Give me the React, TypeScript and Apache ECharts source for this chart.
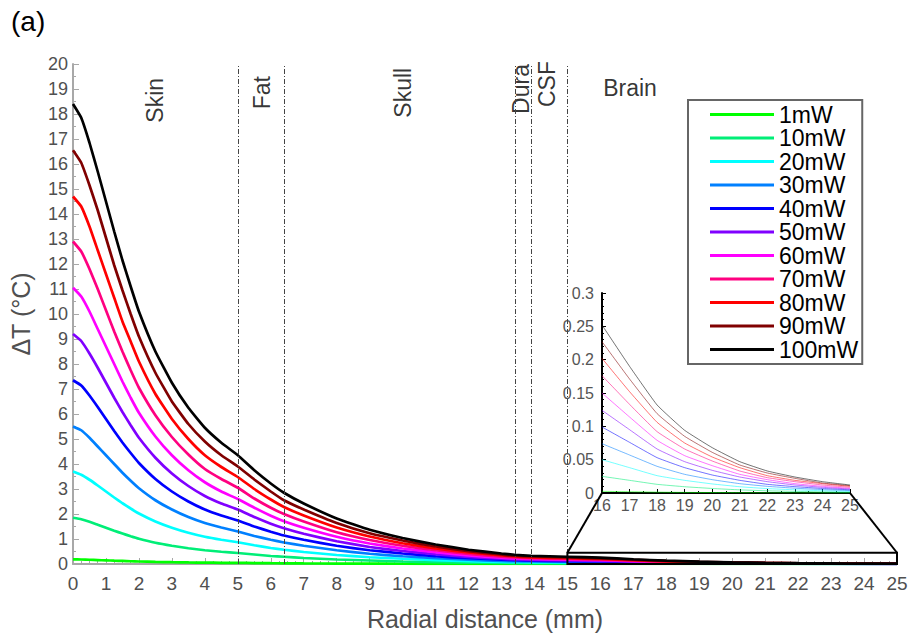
import React, { useEffect, useRef } from "react";
import * as echarts from "echarts";

// Radial distance (mm)
const X_MM = [0, 0.25, 0.5, 0.75, 1, 1.25, 1.5, 1.75, 2, 2.5, 3, 3.5, 4, 4.5, 5, 5.5, 6, 6.4, 7, 8, 9, 10, 11, 12, 13, 13.4, 13.9, 15, 16, 17, 18, 19, 20, 21, 22, 23, 24, 25];

const SERIES_NAMES = ["1mW", "10mW", "20mW", "30mW", "40mW", "50mW", "60mW", "70mW", "80mW", "90mW", "100mW"];
const SERIES_COLORS = ["#00ff00", "#00ee77", "#00ffff", "#0080ff", "#0000ff", "#8000ff", "#ff00ff", "#ff0080", "#ff0000", "#800000", "#000000"];

// ΔT (°C) for each laser power
const DT_1 = [0.184, 0.179, 0.169, 0.157, 0.145, 0.133, 0.122, 0.111, 0.101, 0.085, 0.073, 0.063, 0.055, 0.049, 0.044, 0.038, 0.032, 0.029, 0.024, 0.018, 0.014, 0.01, 0.0078, 0.0057, 0.0042, 0.0037, 0.0033, 0.0029, 0.0025, 0.0019, 0.0013, 0.0009, 0.0007, 0.0005, 0.0003, 0.0002, 0.0002, 0.0001];
const DT_10 = [1.85, 1.79, 1.69, 1.57, 1.45, 1.33, 1.22, 1.11, 1.01, 0.85, 0.73, 0.63, 0.55, 0.49, 0.44, 0.38, 0.32, 0.29, 0.24, 0.18, 0.14, 0.1, 0.078, 0.057, 0.042, 0.037, 0.033, 0.029, 0.025, 0.019, 0.013, 0.0094, 0.0068, 0.0047, 0.0033, 0.0024, 0.0017, 0.0012];
const DT_20 = [3.7, 3.57, 3.37, 3.14, 2.9, 2.66, 2.43, 2.22, 2.02, 1.7, 1.45, 1.25, 1.09, 0.97, 0.87, 0.75, 0.64, 0.57, 0.48, 0.36, 0.27, 0.21, 0.156, 0.114, 0.084, 0.074, 0.066, 0.058, 0.05, 0.038, 0.026, 0.019, 0.0136, 0.0094, 0.0066, 0.0048, 0.0034, 0.0024];
const DT_30 = [5.5, 5.35, 5.05, 4.7, 4.35, 4.0, 3.65, 3.33, 3.03, 2.55, 2.18, 1.88, 1.64, 1.46, 1.3, 1.12, 0.97, 0.86, 0.73, 0.55, 0.41, 0.31, 0.23, 0.17, 0.126, 0.111, 0.1, 0.087, 0.074, 0.057, 0.04, 0.028, 0.02, 0.014, 0.01, 0.0072, 0.0051, 0.0036];
const DT_40 = [7.35, 7.14, 6.74, 6.28, 5.8, 5.32, 4.86, 4.44, 4.04, 3.4, 2.9, 2.5, 2.18, 1.94, 1.74, 1.5, 1.29, 1.14, 0.97, 0.73, 0.55, 0.42, 0.31, 0.23, 0.17, 0.15, 0.13, 0.115, 0.099, 0.076, 0.053, 0.038, 0.027, 0.019, 0.013, 0.0095, 0.0068, 0.0048];
const DT_50 = [9.2, 8.92, 8.42, 7.85, 7.25, 6.65, 6.08, 5.55, 5.05, 4.25, 3.62, 3.12, 2.72, 2.42, 2.18, 1.88, 1.61, 1.43, 1.21, 0.91, 0.68, 0.52, 0.39, 0.285, 0.21, 0.185, 0.165, 0.145, 0.124, 0.095, 0.066, 0.047, 0.034, 0.024, 0.017, 0.012, 0.0085, 0.006];
const DT_60 = [11.05, 10.7, 10.1, 9.4, 8.7, 8.0, 7.3, 6.65, 6.05, 5.1, 4.35, 3.75, 3.27, 2.9, 2.6, 2.25, 1.93, 1.71, 1.45, 1.09, 0.82, 0.62, 0.47, 0.34, 0.25, 0.22, 0.2, 0.17, 0.15, 0.114, 0.079, 0.056, 0.041, 0.028, 0.02, 0.014, 0.01, 0.007];
const DT_70 = [12.9, 12.5, 11.8, 11.0, 10.15, 9.3, 8.5, 7.75, 7.05, 5.95, 5.08, 4.38, 3.8, 3.4, 3.05, 2.62, 2.25, 2.0, 1.7, 1.27, 0.96, 0.73, 0.55, 0.4, 0.29, 0.26, 0.23, 0.2, 0.176, 0.133, 0.092, 0.066, 0.048, 0.033, 0.023, 0.017, 0.012, 0.0085];
const DT_80 = [14.7, 14.3, 13.5, 12.55, 11.6, 10.65, 9.7, 8.9, 8.1, 6.8, 5.8, 5.0, 4.35, 3.88, 3.48, 3.0, 2.58, 2.28, 1.94, 1.46, 1.1, 0.83, 0.62, 0.46, 0.34, 0.3, 0.26, 0.23, 0.202, 0.152, 0.106, 0.075, 0.054, 0.038, 0.026, 0.019, 0.014, 0.01];
const DT_90 = [16.55, 16.05, 15.15, 14.15, 13.05, 11.95, 10.95, 10.0, 9.1, 7.65, 6.5, 5.6, 4.9, 4.35, 3.9, 3.38, 2.9, 2.55, 2.18, 1.64, 1.23, 0.94, 0.7, 0.51, 0.38, 0.33, 0.3, 0.26, 0.227, 0.171, 0.119, 0.085, 0.061, 0.042, 0.03, 0.022, 0.015, 0.011];
const DT_100 = [18.4, 17.85, 16.85, 15.7, 14.5, 13.3, 12.15, 11.1, 10.1, 8.5, 7.25, 6.25, 5.45, 4.85, 4.35, 3.75, 3.22, 2.85, 2.42, 1.82, 1.37, 1.04, 0.78, 0.57, 0.42, 0.37, 0.33, 0.29, 0.252, 0.19, 0.132, 0.094, 0.068, 0.047, 0.033, 0.024, 0.017, 0.012];

const SERIES_VALUES = [DT_1, DT_10, DT_20, DT_30, DT_40, DT_50, DT_60, DT_70, DT_80, DT_90, DT_100];

// Tissue layer boundaries (mm) and labels
const BOUNDARIES = [5, 6.4, 13.43, 13.9, 15];
const REGION_NAMES = ["Skin", "Fat", "Skull", "Dura", "CSF", "Brain"];
const REGION_X = [2.5, 5.72, 10.0, 13.6, 14.38, 16.9];
const REGION_Y = [18.55, 18.85, 18.85, 19.0, 19.2, 19.05];
const REGION_ROTATE = [90, 90, 90, 90, 90, 0];

// Inset (zoom) range
const INSET_X_MIN = 16;
const INSET_X_MAX = 25;
const INSET_Y_MAX = 0.3;
const ZOOM_BOX_X = [15, 25];
const ZOOM_BOX_Y = [0, 0.45];

const FONT = "Liberation Sans, Arial, sans-serif";

export default function App() {
  const ref = useRef<HTMLDivElement>(null);

  useEffect(() => {
    document.body.style.margin = "0";
    const chart = echarts.init(ref.current!, null, { renderer: "svg" });

    const mainSeries: any[] = SERIES_NAMES.map((name, k) => ({
      name,
      type: "line",
      xAxisIndex: 0,
      yAxisIndex: 0,
      showSymbol: false,
      symbol: "none",
      smooth: 0.12,
      z: 3 + k * 0.01,
      color: SERIES_COLORS[k],
      lineStyle: { width: 2.7, color: SERIES_COLORS[k] },
      data: X_MM.map((x, i) => [x, SERIES_VALUES[k][i]]),
    }));

    mainSeries[0].markLine = {
      silent: true,
      symbol: "none",
      label: { show: false },
      lineStyle: { color: "#444", width: 1, type: [5, 2, 1, 2] },
      data: BOUNDARIES.map((b) => ({ xAxis: b })),
    };

    const insetSeries = SERIES_NAMES.map((name, k) => ({
      name: name + " (inset)",
      type: "line",
      xAxisIndex: 1,
      yAxisIndex: 1,
      showSymbol: false,
      symbol: "none",
      smooth: 0.12,
      color: SERIES_COLORS[k],
      lineStyle: { width: 1, color: SERIES_COLORS[k], opacity: 0.55 },
      data: X_MM.map((x, i) => [x, SERIES_VALUES[k][i]]).filter((p) => p[0] >= INSET_X_MIN),
    }));

    const regionSeries = {
      name: "regions",
      type: "scatter",
      xAxisIndex: 0,
      yAxisIndex: 0,
      symbolSize: 0,
      silent: true,
      data: REGION_NAMES.map((n, i) => ({
        name: n,
        value: [REGION_X[i], REGION_Y[i]],
        label: {
          show: true,
          position: "inside",
          formatter: n,
          rotate: REGION_ROTATE[i],
          color: "#000",
          fontSize: 23,
          fontFamily: FONT,
        },
      })),
    };

    const axisGray = "#a8a8a8";
    const labelGray = "#505050";

    chart.setOption({
      animation: false,
      backgroundColor: "#fff",
      textStyle: { fontFamily: FONT },
      title: {
        text: "(a)",
        left: 6,
        top: 2,
        textStyle: { fontSize: 28, fontWeight: "normal", color: "#000", fontFamily: FONT },
      },
      legend: {
        data: SERIES_NAMES,
        orient: "vertical",
        left: 688,
        top: 100,
        icon: "rect",
        itemWidth: 64,
        itemHeight: 3,
        itemGap: 0.5,
        padding: [3, 4, 3, 22],
        borderColor: "#666",
        borderWidth: 2,
        backgroundColor: "#fff",
        selectedMode: false,
        textStyle: { fontSize: 23, color: "#000", fontFamily: FONT, lineHeight: 21.3 },
      },
      grid: [
        { left: 73, right: 20, top: 64, bottom: 75 },
        { left: 602, top: 293, width: 248, height: 200 },
      ],
      xAxis: [
        {
          type: "value",
          gridIndex: 0,
          min: 0,
          max: 25,
          interval: 1,
          name: "Radial distance (mm)",
          nameLocation: "middle",
          nameGap: 42,
          nameTextStyle: { fontSize: 25, color: labelGray, fontFamily: FONT },
          axisLine: { lineStyle: { color: axisGray, width: 2 } },
          axisTick: { inside: true, length: 6, lineStyle: { color: axisGray } },
          minorTick: { show: true, splitNumber: 4, length: 3, lineStyle: { color: axisGray } },
          axisLabel: { fontSize: 19, color: labelGray, margin: 10, fontFamily: FONT },
          splitLine: { show: false },
        },
        {
          type: "value",
          gridIndex: 1,
          min: INSET_X_MIN,
          max: INSET_X_MAX,
          interval: 1,
          axisLine: { lineStyle: { color: "#000", width: 2 } },
          axisTick: { inside: true, length: 4, lineStyle: { color: "#000" } },
          minorTick: { show: true, splitNumber: 2, length: 2, lineStyle: { color: "#000" } },
          axisLabel: { fontSize: 16, color: "#555", margin: 4, fontFamily: FONT },
          splitLine: { show: false },
        },
      ],
      yAxis: [
        {
          type: "value",
          gridIndex: 0,
          min: 0,
          max: 20,
          interval: 1,
          name: "ΔT (°C)",
          nameLocation: "middle",
          nameGap: 40,
          nameTextStyle: { fontSize: 25, color: labelGray, fontFamily: FONT },
          axisLine: { show: true, lineStyle: { color: axisGray, width: 2 } },
          axisTick: { show: true, inside: true, length: 6, lineStyle: { color: axisGray } },
          minorTick: { show: true, splitNumber: 2, length: 3, lineStyle: { color: axisGray } },
          axisLabel: { fontSize: 18, color: labelGray, margin: 5, fontFamily: FONT },
          splitLine: { show: false },
        },
        {
          type: "value",
          gridIndex: 1,
          min: 0,
          max: INSET_Y_MAX,
          interval: 0.05,
          axisLine: { show: true, lineStyle: { color: "#000", width: 2 } },
          axisTick: { show: true, inside: true, length: 4, lineStyle: { color: "#000" } },
          minorTick: { show: true, splitNumber: 5, length: 2, lineStyle: { color: "#000" } },
          axisLabel: { fontSize: 16, color: "#555", margin: 8, fontFamily: FONT },
          splitLine: { show: false },
        },
      ],
      series: [...mainSeries, ...insetSeries, regionSeries],
    });

    // Zoom box and connector lines computed from the axes
    const bl = chart.convertToPixel({ gridIndex: 0 }, [ZOOM_BOX_X[0], ZOOM_BOX_Y[0]]) as number[];
    const tr = chart.convertToPixel({ gridIndex: 0 }, [ZOOM_BOX_X[1], ZOOM_BOX_Y[1]]) as number[];
    const insetL = chart.convertToPixel({ gridIndex: 1 }, [INSET_X_MIN, 0]) as number[];
    const insetR = chart.convertToPixel({ gridIndex: 1 }, [INSET_X_MAX, 0]) as number[];

    chart.setOption({
      graphic: [
        {
          type: "rect",
          shape: { x: bl[0], y: tr[1], width: tr[0] - bl[0], height: bl[1] - tr[1] },
          style: { fill: "none", stroke: "#000", lineWidth: 2 },
          z: 50,
          silent: true,
        },
        {
          type: "line",
          shape: { x1: bl[0], y1: tr[1], x2: insetL[0], y2: insetL[1] },
          style: { stroke: "#000", lineWidth: 2 },
          z: 50,
          silent: true,
        },
        {
          type: "line",
          shape: { x1: tr[0], y1: tr[1], x2: insetR[0], y2: insetR[1] },
          style: { stroke: "#000", lineWidth: 2 },
          z: 50,
          silent: true,
        },
      ],
    });

    return () => chart.dispose();
  }, []);

  return <div ref={ref} style={{ width: 917, height: 639 }} />;
}
